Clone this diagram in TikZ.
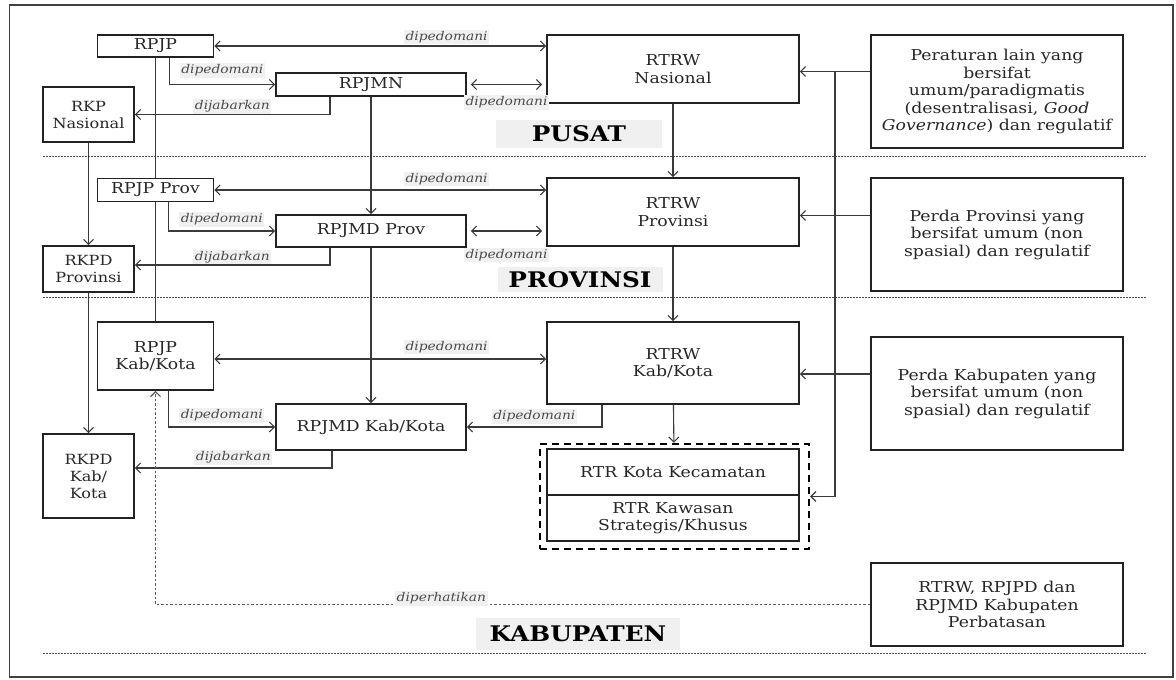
\documentclass[tikz,border=0pt]{standalone}
\usepackage{fontspec}
\setmainfont{DejaVu Serif}[FakeStretch=1.15]
\usetikzlibrary{arrows.meta}
\definecolor{inkline}{HTML}{222222}
\definecolor{inkconn}{HTML}{3A3A3A}
\definecolor{inktext}{HTML}{262626}
\definecolor{inklabel}{HTML}{4A4A4A}
\definecolor{patch}{HTML}{F0F0F0}
\begin{document}
\begin{tikzpicture}[x=1pt,y=-1pt,
  box/.style={draw=inkline,line width=1.6pt,fill=white,text=inktext,align=center,inner sep=0pt,font=\fontsize{15}{17.5}\selectfont},
  lbl/.style={font=\fontsize{12}{14}\selectfont\itshape,text=inklabel,fill=patch,inner sep=1.5pt},
  link/.style={draw=inkconn,line width=1.1pt},
  conn/.style={link,-{Straight Barb[length=5pt,width=10pt]}},
  twoway/.style={link,{Straight Barb[length=5pt,width=10pt]}-{Straight Barb[length=5pt,width=10pt]}},
  hint/.style={conn,line width=1.2pt,dash pattern=on 2.5pt off 2pt,draw=inkconn!85},
  level/.style={font=\fontsize{21.5}{24}\selectfont\bfseries,fill=patch,inner sep=0pt},
  sepline/.style={draw=gray!60!black,line width=0.8pt,dash pattern=on 2pt off 1pt}]
\useasboundingbox (0,0) rectangle (1176,680);
\draw[line width=1.8pt,draw=black!75] (9.5,5) rectangle (1173,677);
% level separators
\foreach \y in {156,297.5,653.5}
  \draw[sepline] (43,\y) -- (1146.5,\y);
\node[level,minimum width=166,minimum height=28] (pusat) at (579,134) {PUSAT};
\node[level,minimum width=165,minimum height=25] (provinsi) at (580,279.5) {PROVINSI};
\node[level,minimum width=204,minimum height=32] (kabupaten) at (578,634) {KABUPATEN};
% nasional
\node[box,minimum width=116,minimum height=22] (rpjp) at (155.5,46) {RPJP};
\node[box,minimum width=190,minimum height=23] (rpjmn) at (371,84.5) {RPJMN};
\node[box,minimum width=91,minimum height=55,font=\fontsize{14}{17}\selectfont] (rkpnas) at (88.5,114.5) {RKP\\Nasional};
\node[box,minimum width=252,minimum height=68] (rtrwnas) at (673,69) {RTRW\\Nasional};
\node[box,minimum width=252,minimum height=113] (aturan) at (997,91.5) {Peraturan lain yang\\bersifat\\umum/paradigmatis\\(desentralisasi, \textit{Good}\\\textit{Governance}) dan regulatif};
% provinsi
\node[box,minimum width=116,minimum height=23] (rpjpprov) at (155.5,190) {RPJP Prov};
\node[box,minimum width=190,minimum height=32] (rpjmdprov) at (371,231) {RPJMD Prov};
\node[box,minimum width=91,minimum height=46,font=\fontsize{14}{17}\selectfont] (rkpdprov) at (88.5,269) {RKPD\\Provinsi};
\node[box,minimum width=252,minimum height=68] (rtrwprov) at (673,212) {RTRW\\Provinsi};
\node[box,minimum width=252,minimum height=113] (perdaprov) at (997,234.5) {Perda Provinsi yang\\bersifat umum (non\\spasial) dan regulatif};
% kabupaten/kota
\node[box,minimum width=116,minimum height=68] (rpjpkab) at (155.5,356) {RPJP\\Kab/Kota};
\node[box,minimum width=190,minimum height=46] (rpjmdkab) at (371,427) {RPJMD Kab/Kota};
\node[box,minimum width=91,minimum height=84,font=\fontsize{14}{17}\selectfont] (rkpdkab) at (88.5,476) {RKPD\\Kab/\\Kota};
\node[box,minimum width=252,minimum height=82] (rtrwkab) at (673,363) {RTRW\\Kab/Kota};
\node[box,minimum width=252,minimum height=113] (perdakab) at (997,393.5) {Perda Kabupaten yang\\bersifat umum (non\\spasial) dan regulatif};
\node[draw=black,line width=2.4pt,dash pattern=on 7pt off 5pt,minimum width=269,minimum height=105,inner sep=0pt] (rtrgroup) at (674.5,496.5) {};
\node[box,minimum width=252,minimum height=46] (rtrkota) at (673,472) {RTR Kota Kecamatan};
\node[box,minimum width=252,minimum height=46] (rtrkws) at (673,518) {RTR Kawasan\\Strategis/Khusus};
\node[box,minimum width=252,minimum height=83] (batas) at (997,604.5) {RTRW, RPJPD dan\\RPJMD Kabupaten\\Perbatasan};
% connectors, nasional
\draw[twoway] (rpjp.east) -- (rpjp.east -| rtrwnas.west) node[lbl,pos=0.7,above=1pt] {dipedomani};
\draw[conn] ([xshift=14pt]rpjp.south) |- (rpjmn.west) node[lbl,pos=0.75,above=6pt] {dipedomani};
\draw[conn] ([xshift=-41pt]rpjmn.south) |- (rkpnas.east) node[lbl,pos=0.75,above=0pt] {dijabarkan};
\draw[twoway,shorten <=4pt,shorten >=4pt] (rpjmn.east) -- (rpjmn.east -| rtrwnas.west) node[lbl,midway,below=10pt] {dipedomani};
% connectors, provinsi
\draw[twoway] (rpjpprov.east) -- (rpjpprov.east -| rtrwprov.west) node[lbl,pos=0.7,above=3pt] {dipedomani};
\draw[conn] ([xshift=13pt]rpjpprov.south) |- (rpjmdprov.west) node[lbl,pos=0.75,above=3.5pt] {dipedomani};
\draw[conn] ([xshift=-41pt]rpjmdprov.south) |- ([yshift=4pt]rkpdprov.east) node[lbl,pos=0.75,above=0pt] {dijabarkan};
\draw[twoway,shorten <=4pt,shorten >=4pt] (rpjmdprov.east) -- (rpjmdprov.east -| rtrwprov.west) node[lbl,midway,below=16pt] {dipedomani};
% connectors, kabupaten/kota
\draw[twoway] ([yshift=-3pt]rpjpkab.east) -- ([yshift=-3pt]rpjpkab.east -| rtrwkab.west) node[lbl,pos=0.7,above=4pt] {dipedomani};
\draw[conn] ([xshift=13pt]rpjpkab.south) |- (rpjmdkab.west) node[lbl,pos=0.75,above=3.5pt] {dipedomani};
\draw[conn] ([xshift=-39pt]rpjmdkab.south) |- ([yshift=8pt]rkpdkab.east) node[lbl,pos=0.75,above=2.5pt] {dijabarkan};
\draw[conn] ([xshift=-71pt]rtrwkab.south) |- (rpjmdkab.east) node[lbl,pos=0.75,above=2.5pt] {dipedomani};
% vertical chains
\draw[link] (rpjp) -- (rpjpprov);
\draw[link] (rpjpprov) -- (rpjpkab);
\draw[conn] (rpjmn) -- (rpjmdprov);
\draw[conn] (rpjmdprov) -- (rpjmdkab);
\draw[conn] (rkpnas) -- (rkpdprov);
\draw[conn] (rkpdprov) -- (rkpdkab);
\draw[conn] (rtrwnas) -- (rtrwprov);
\draw[conn] (rtrwprov) -- (rtrwkab);
\draw[conn] (rtrwkab) -- (rtrgroup);
% regulations on the right
\coordinate (tap) at (835,71.5);
\draw[conn] (tap -| aturan.west) -- (tap -| rtrwnas.east);
\draw[conn] (tap) |- (rtrgroup.east);
\draw[conn] ([yshift=-3.5pt]rtrwprov.east -| perdaprov.west) -- ([yshift=-3.5pt]rtrwprov.east);
\draw[conn] ([yshift=-11pt]rtrwkab.east -| perdakab.west) -- ([yshift=-11pt]rtrwkab.east);
\draw[hint] (batas.west) -| (rpjpkab.south) node[lbl,pos=0.3,above=-2pt] {diperhatikan};
\end{tikzpicture}
\end{document}
